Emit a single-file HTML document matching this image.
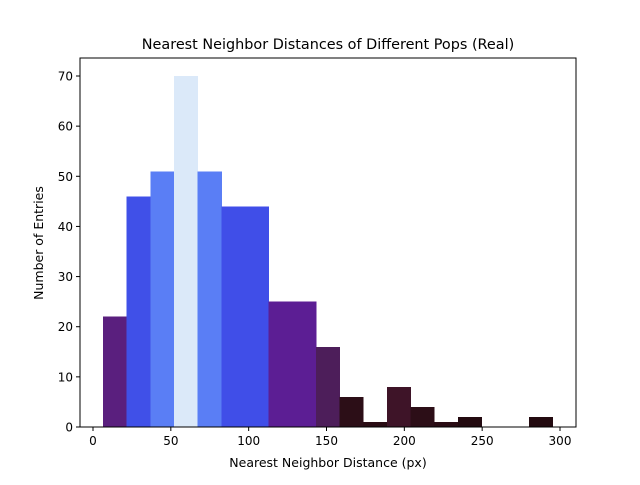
<!DOCTYPE html>
<html><head><meta charset="utf-8"><style>
body{margin:0;background:#fff;font-family:"Liberation Sans","DejaVu Sans",sans-serif;}
svg text{font-family:"DejaVu Sans","Liberation Sans",sans-serif;fill:#000;}
</style></head><body>
<svg id="c" width="640" height="480"></svg>
<script>
const binStart = 6.4;
const binWidth = 15.2;
const counts = [22, 46, 51, 70, 51, 44, 44, 25, 25, 16, 6, 1, 8, 4, 1, 2, 0, 0, 2];
const barColors = ["#5a1f7e","#4050e8","#5a7ef5","#dbe9f9","#5a7ef5","#404ee8","#404ee8","#5c1e94","#5c1e94","#4d1e5a","#2c0e17","#2a0c14","#3e1428","#2c0e17","#2a0c14","#230a10","#230a10","#230a10","#230a10"];
const xTicks = [0, 50, 100, 150, 200, 250, 300];
const yTicks = [0, 10, 20, 30, 40, 50, 60, 70];

const NS = "http://www.w3.org/2000/svg";
const svg = document.getElementById('c');
const L = 80, R = 576, T = 58, B = 427;
const x = v => 93 + v * (467 / 300);
const y = v => 427 - v * (351 / 70);
function mk(tag, attrs, parent) {
  const e = document.createElementNS(NS, tag);
  for (const k in attrs) e.setAttribute(k, attrs[k]);
  (parent || svg).appendChild(e);
  return e;
}
const bars = mk('g', {'shape-rendering': 'crispEdges'});


counts.forEach((c, i) => {
  if (c <= 0) return;
  const x0 = x(binStart + i * binWidth), x1 = x(binStart + (i + 1) * binWidth);
  const r = mk('rect', {x: x0, y: y(c), width: x1 - x0 + 0.5, height: y(0) - y(c), fill: barColors[i]}, bars);
  
  
});
const frame = mk('rect', {x: L, y: T, width: R - L, height: B - T, fill: 'none', stroke: '#000', 'stroke-width': 1});


xTicks.forEach(v => {
  mk('line', {x1: x(v), x2: x(v), y1: B, y2: B + 4, stroke: '#000'});
  const t = mk('text', {x: x(v), y: B + 18, 'font-size': 12, 'text-anchor': 'middle'});
  t.textContent = v;
  
  
});
yTicks.forEach(v => {
  mk('line', {x1: L - 4, x2: L, y1: y(v), y2: y(v), stroke: '#000'});
  const t = mk('text', {x: L - 7, y: y(v) + 4.5, 'font-size': 12, 'text-anchor': 'end'});
  t.textContent = v;
  
  
});
const title = mk('text', {x: 328, y: 49, 'font-size': 14.4, 'text-anchor': 'middle'});
title.textContent = 'Nearest Neighbor Distances of Different Pops (Real)';


const xl = mk('text', {x: 328, y: 467, 'font-size': 12.5, 'text-anchor': 'middle'});
xl.textContent = 'Nearest Neighbor Distance (px)';


const yl = mk('text', {x: 0, y: 0, 'font-size': 12.5, 'text-anchor': 'middle', transform: 'translate(43,243) rotate(-90)'});
yl.textContent = 'Number of Entries';


</script>
</body></html>
